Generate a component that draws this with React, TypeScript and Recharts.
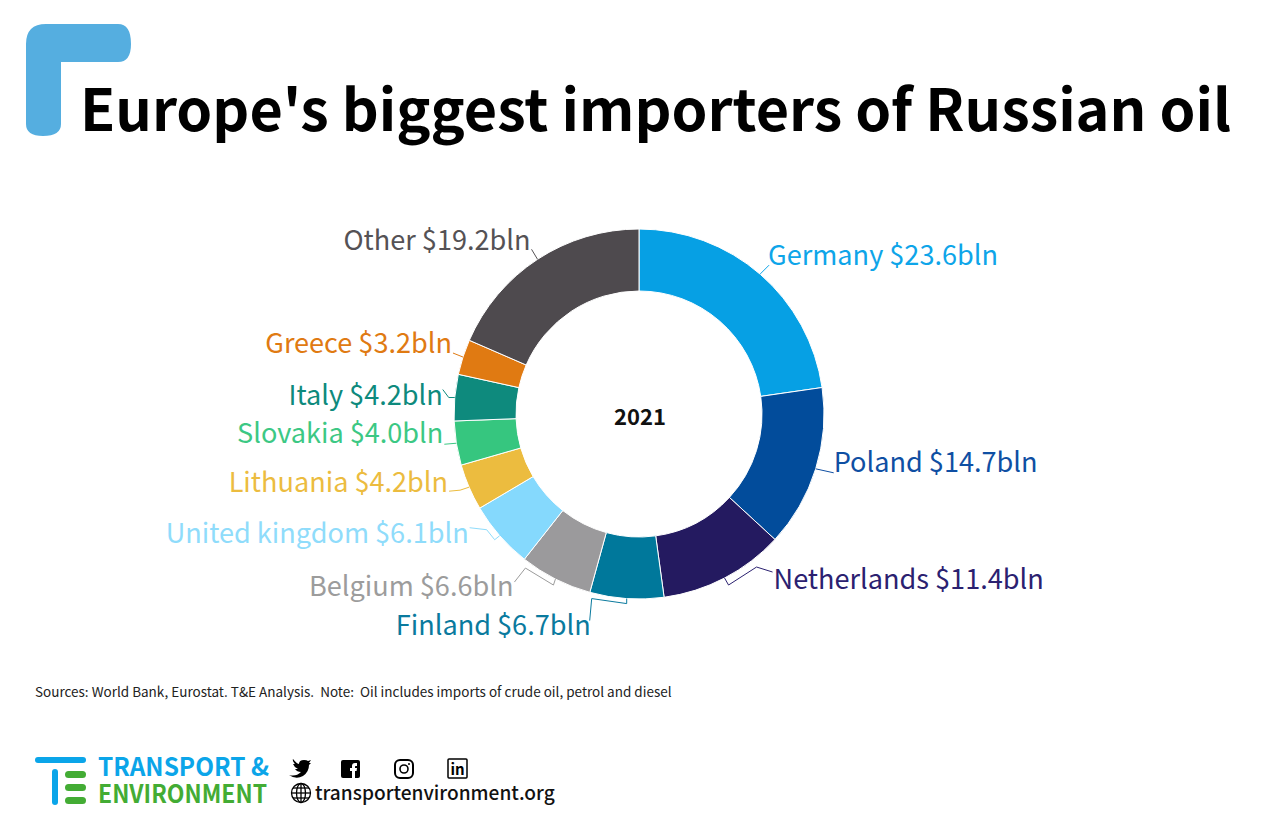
import { Label, Pie, PieChart } from "recharts";

const FONT = '"Noto Sans CJK JP", "Noto Sans", sans-serif';

const countries = [
  "Germany",
  "Poland",
  "Netherlands",
  "Finland",
  "Belgium",
  "United kingdom",
  "Lithuania",
  "Slovakia",
  "Italy",
  "Greece",
  "Other",
];
const imports = [23.6, 14.7, 11.4, 6.7, 6.6, 6.1, 4.2, 4.0, 4.2, 3.2, 19.2];
const sliceColors = [
  "#06a0e4",
  "#024c9b",
  "#241a60",
  "#00789b",
  "#9b9a9c",
  "#85d9fd",
  "#ecbc3f",
  "#36c67f",
  "#0e8a7d",
  "#e07a12",
  "#4e4a4e",
];
const labelColors = [
  "#0ea5e9",
  "#0f4fa3",
  "#2b2170",
  "#0a7a9e",
  "#9c9c9c",
  "#8fdcfb",
  "#ecbc3f",
  "#3cc884",
  "#0e8a7d",
  "#e07a12",
  "#555255",
];

// leader elbows and text anchor, as offsets from the slice's outer mid point
const leaders: { bends: number[][]; text: number[] }[] = [
  { bends: [[9, -9]], text: [8, -21] },
  { bends: [[18, 4]], text: [18, -8] },
  { bends: [[4, 7], [32, -11], [48, -6]], text: [49, -1] },
  { bends: [[0, 5], [-35, 0], [-37, 22]], text: [-36, 25] },
  { bends: [[-2, 6], [-30, -11], [-41, 3]], text: [-42, 5] },
  { bends: [[-5, 4], [-13, -6], [-30, -8]], text: [-31, -4] },
  { bends: [[-9, 3], [-20, 4]], text: [-21, -7] },
  { bends: [[-12, 1]], text: [-13, -12] },
  { bends: [[-6, 0], [-12, -8]], text: [-12, -4] },
  { bends: [[-10, -4]], text: [-11, -16] },
  { bends: [[-6, -10]], text: [-7, -21] },
];

const rows = countries.map((name, i) => ({
  name,
  value: imports[i],
  fill: sliceColors[i],
}));

const RAD = Math.PI / 180;

const renderSliceLabel = (props: any) => {
  const { cx, cy, midAngle, outerRadius, index } = props;
  const ox = cx + outerRadius * Math.cos(-midAngle * RAD);
  const oy = cy + outerRadius * Math.sin(-midAngle * RAD);
  const leader = leaders[index];
  const points = [[0, 0], ...leader.bends]
    .map(([dx, dy]) => `${ox + dx},${oy + dy}`)
    .join(" ");
  const onRight = leader.text[0] > 0;
  return (
    <g key={countries[index]}>
      <polyline
        points={points}
        fill="none"
        stroke={labelColors[index]}
        strokeWidth={1}
      />
      <text
        x={ox + leader.text[0]}
        y={oy + leader.text[1]}
        textAnchor={onRight ? "start" : "end"}
        dominantBaseline="central"
        fontFamily={FONT}
        fontSize={27.1}
        fill={labelColors[index]}
      >
        {`${countries[index]} $${imports[index].toFixed(1)}bln`}
      </text>
    </g>
  );
};

const Furniture = () => (
  <svg
    width={1280}
    height={828}
    style={{ position: "absolute", left: 0, top: 0, pointerEvents: "none" }}
  >
    <path
      d="M26 44 Q26 24 46 24 L118 24 Q131 24 131 44 Q131 62 118 62 L61 62 L61 124 Q61 136 43 136 Q26 136 26 124 Z"
      fill="#55aee0"
    />
    <text
      x={80}
      y={131}
      fontFamily={FONT}
      fontWeight={700}
      fontSize={57.5}
      fill="#000"
    >
      Europe's biggest importers of Russian oil
    </text>
    <text
      x={35}
      y={697}
      fontFamily={FONT}
      fontSize={13.5}
      fill="#222"
      style={{ whiteSpace: "pre" }}
    >
      {"Sources: World Bank, Eurostat. T&E Analysis.  Note:  Oil includes imports of crude oil, petrol and diesel"}
    </text>

    {/* T&E logo */}
    <rect x={35} y={757} width={51} height={6} rx={3} fill="#0ba5e9" />
    <rect x={52} y={769} width={6} height={36} rx={3} fill="#0ba5e9" />
    <rect x={65} y={771} width={21} height={7} rx={3.5} fill="#43ac34" />
    <rect x={65} y={784} width={21} height={7} rx={3.5} fill="#43ac34" />
    <rect x={65} y={797} width={21} height={7} rx={3.5} fill="#43ac34" />
    <text
      x={98}
      y={776}
      fontFamily={FONT}
      fontWeight={700}
      fontSize={25}
      fill="#0ba5e9"
      textLength={171}
      lengthAdjust="spacingAndGlyphs"
    >
      TRANSPORT &amp;
    </text>
    <text
      x={98}
      y={803}
      fontFamily={FONT}
      fontWeight={700}
      fontSize={25}
      fill="#43ac34"
      textLength={169}
      lengthAdjust="spacingAndGlyphs"
    >
      ENVIRONMENT
    </text>

    {/* social icons */}
    <path
      transform="translate(-2 0)"
      d="M291 775 Q298 777 303 772 Q299 772 297 769 L300 769 Q296 767 295 764 L297 764 Q294 761 295 759 Q299 764 301 764 Q301 760 306 760 Q309 760 310 761 L313 760 L311 763 L313 763 L311 765 Q311 772 305 776 Q298 780 291 775 Z"
      fill="#000"
    />
    <rect x={341} y={760} width={19} height={18} rx={2} fill="#000" />
    <path
      d="M352 778 L352 771 L350 771 L350 768 L352 768 L352 766 Q352 763 355 763 L357 763 L357 766 L355.5 766 Q355 766 355 767 L355 768 L357 768 L356.6 771 L355 771 L355 778 Z"
      fill="#fff"
    />
    <rect
      x={395}
      y={760}
      width={18}
      height={18}
      rx={5}
      fill="none"
      stroke="#000"
      strokeWidth={2}
    />
    <circle cx={404} cy={769} r={4} fill="none" stroke="#000" strokeWidth={1.6} />
    <circle cx={409} cy={764} r={1} fill="#000" />
    <rect
      x={448}
      y={759}
      width={19}
      height={19}
      rx={1}
      fill="none"
      stroke="#000"
      strokeWidth={1.5}
    />
    <text
      x={457.5}
      y={775}
      textAnchor="middle"
      fontFamily={FONT}
      fontWeight={700}
      fontSize={15}
      fill="#000"
    >
      in
    </text>
    <g fill="none" stroke="#000" strokeWidth={1.3}>
      <circle cx={301} cy={793} r={9.5} />
      <ellipse cx={301} cy={793} rx={4.5} ry={9.5} />
      <line x1={301} y1={783.5} x2={301} y2={802.5} />
      <line x1={291.5} y1={793} x2={310.5} y2={793} />
      <line x1={293} y1={788} x2={309} y2={788} />
      <line x1={293} y1={798} x2={309} y2={798} />
    </g>
    <text
      x={315}
      y={800}
      fontFamily={FONT}
      fontWeight={500}
      fontSize={19.1}
      fill="#111"
    >
      transportenvironment.org
    </text>
  </svg>
);

export default function App() {
  return (
    <div
      style={{
        position: "absolute",
        left: 0,
        top: 0,
        width: 1280,
        height: 828,
        background: "#fff",
      }}
    >
      <PieChart
        width={1280}
        height={828}
        margin={{ top: 0, right: 0, bottom: 0, left: 0 }}
      >
        <Pie
          data={rows}
          dataKey="value"
          nameKey="name"
          cx={639}
          cy={414}
          innerRadius={123}
          outerRadius={185}
          startAngle={90}
          endAngle={-270}
          stroke="#fff"
          strokeWidth={1}
          label={renderSliceLabel}
          labelLine={false}
          isAnimationActive={false}
        >
          <Label
            value="2021"
            position="center"
            fontFamily={FONT}
            fontWeight={700}
            fontSize={22}
            fill="#111"
            dy={3}
          />
        </Pie>
      </PieChart>
      <Furniture />
    </div>
  );
}
